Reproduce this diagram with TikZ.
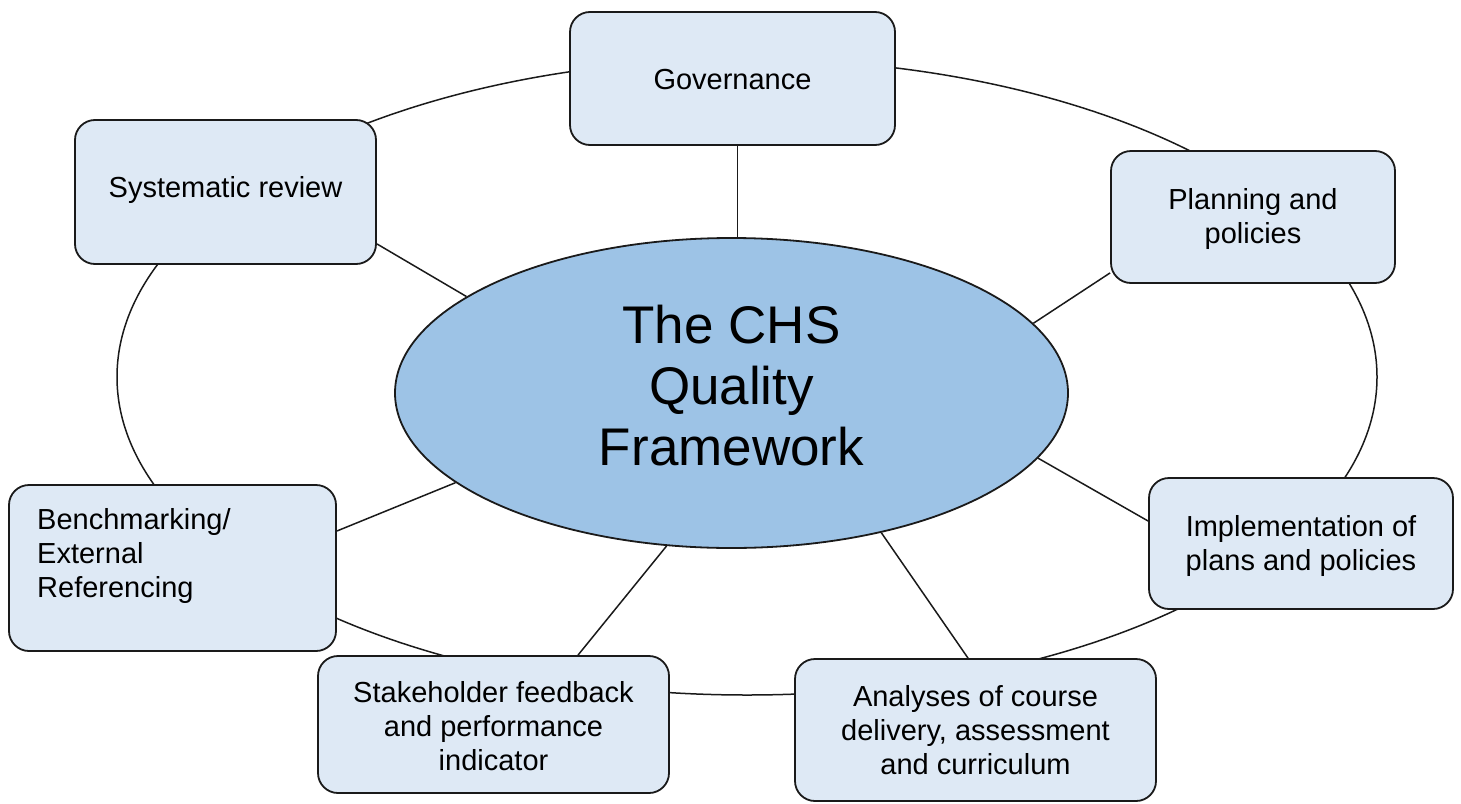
\documentclass[tikz,border=0pt]{standalone}
\usepackage{fontspec}
\setmainfont{Liberation Sans}
\usetikzlibrary{shapes.geometric,calc,backgrounds}
\definecolor{boxfill}{HTML}{DEE9F5}
\definecolor{ellfill}{HTML}{9DC3E6}
\definecolor{edge}{HTML}{1A1A1A}
\tikzset{
  qbox/.style={draw=edge, line width=1.8pt, fill=boxfill, rounded corners=20pt,
    inner sep=0pt, align=center, font=\fontsize{29}{34}\selectfont},
  qtext/.style={inner sep=0pt, font=\fontsize{29}{34}\selectfont},
  spoke/.style={draw=edge, line width=1.5pt},
  ring/.style={draw=edge, line width=1.5pt}
}
\begin{document}
\begin{tikzpicture}[x=1pt,y=-1pt]
\useasboundingbox (0,0) rectangle (1461,803);
% centre ellipse
\node[ellipse, draw=edge, line width=1.8pt, fill=ellfill, minimum width=673pt, minimum height=310pt, inner sep=0pt] (c) at (731.5,393) {};
\node[inner sep=0pt, align=center, font=\fontsize{53}{61}\selectfont] (ctext) at (731.5,386) {The CHS\\Quality\\Framework};
% boxes
\node[qbox, minimum width=325pt, minimum height=133pt] (gov) at (732.5,78.5) {};
\node[qtext] (govtext) at (732.5,80) {Governance};
\node[qbox, minimum width=301pt, minimum height=144pt] (sys) at (225.5,192) {};
\node[qtext] (systext) at (225.5,189.5) {Systematic review};
\node[qbox, minimum width=284pt, minimum height=132pt] (plan) at (1253,217) {};
\node[qtext, align=center] (plantext) at (1253,219) {Planning and\\policies};
\node[qbox, minimum width=327pt, minimum height=166pt] (bench) at (172.5,568) {};
\node[qtext, align=left, anchor=west] (benchtext) at (37,556) {Benchmarking/\\External\\Referencing};
\node[qbox, minimum width=304pt, minimum height=131pt] (impl) at (1301,543.5) {};
\node[qtext, align=center] (impltext) at (1301,545.5) {Implementation of\\plans and policies};
\node[qbox, minimum width=351pt, minimum height=137pt] (stake) at (493.5,724.5) {};
\node[qtext, align=center] (staketext) at (493.5,726) {Stakeholder feedback\\and performance\\indicator};
\node[qbox, minimum width=361pt, minimum height=142pt] (anal) at (975.5,730) {};
\node[qtext, align=center] (analtext) at (975.5,730) {Analyses of course\\delivery, assessment\\and curriculum};
\begin{scope}[on background layer]
  \node[ellipse, ring, minimum width=1260pt, minimum height=636pt, inner sep=0pt] (outer) at (747,377) {};
  \draw[spoke] ($(gov.south)+(5,0)$) -- ($(c.north)+(6,0)$);
  \draw[spoke] ($(sys.south east)+(0,-21)$) -- (c.160);
  \draw[spoke] ($(plan.south west)+(0,-11)$) -- (c.13);
  \draw[spoke] ($(bench.east)+(0,-37)$) -- (c.198);
  \draw[spoke] ($(impl.west)+(0,-22.5)$) -- (c.-12);
  \draw[spoke] ($(stake.north)+(84.5,0)$) -- (c.247);
  \draw[spoke] ($(anal.north)+(-7.5,0)$) -- (c.-43);
\end{scope}
\end{tikzpicture}
\end{document}
